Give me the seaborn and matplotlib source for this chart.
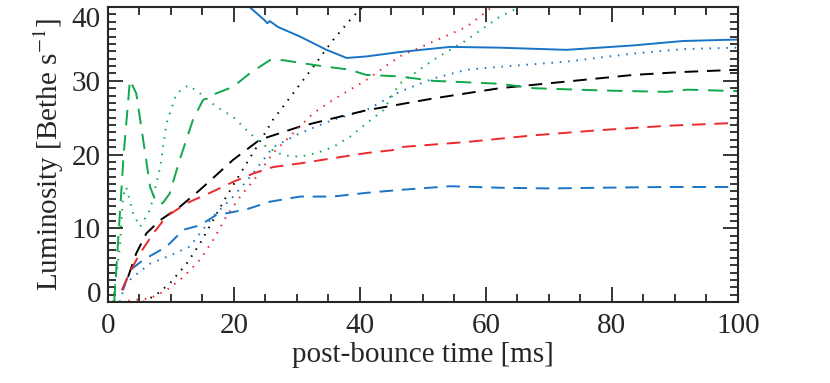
import matplotlib
matplotlib.use("Agg")
import matplotlib.pyplot as plt
import seaborn as sns
import pandas as pd
from matplotlib.ticker import MultipleLocator

# luminosities [Bethe/s] vs post-bounce time [ms]
t_blue_solid = [0, 1.8]
L_blue_solid = [0, 0]
t_blue_solid2 = [20, 22.5, 24.9, 25.3, 25.7, 27, 30.5, 34.7, 37.9, 41, 46.3, 54.3, 62, 72.8, 83.4, 91.3, 100]
L_blue_solid2 = [42, 40, 38.2, 37.8, 38.1, 37.3, 36.0, 34.2, 33.1, 33.3, 33.9, 34.6, 34.5, 34.2, 34.8, 35.4, 35.6]

t_blue_dot = [1.9, 2.7, 4, 6.7, 9.3, 13, 14.6, 16.7, 19.9, 23, 26.2, 30.5, 35.7, 41, 44.8, 46.3, 51.6, 56.9, 62.2, 72.8, 83.4, 91.3, 100]
L_blue_dot = [0, 2.3, 3.4, 5.2, 6.1, 7.5, 9.3, 11.6, 14.3, 17.4, 21, 22.9, 24.7, 26, 27.8, 28.5, 30.3, 31.5, 31.9, 32.6, 33.7, 34.3, 34.5]

t_blue_dash = [2.4, 3.5, 5.6, 9.3, 12, 14.6, 17.2, 19.9, 22.5, 25.7, 30.5, 35.7, 41, 46.3, 54.3, 62.2, 70.2, 78, 88.7, 100]
L_blue_dash = [1.6, 4.3, 5.7, 7.5, 9.8, 10.4, 11.8, 12.2, 12.7, 13.6, 14.3, 14.3, 14.8, 15.2, 15.7, 15.5, 15.4, 15.5, 15.6, 15.6]

t_black_dash = [3.2, 4.5, 6.1, 8.3, 11.4, 14.6, 19.9, 24.1, 30.5, 35.7, 41, 46.3, 51.6, 62.2, 72.8, 83.4, 91.3, 100]
L_black_dash = [3.4, 6.6, 9.3, 11.1, 12.9, 15.2, 19.3, 22.0, 23.8, 24.9, 26.0, 26.8, 27.6, 29.0, 29.9, 30.8, 31.2, 31.5]

t_black_dot = [5.6, 7.7, 9.8, 12.5, 14.6, 16.7, 18.8, 21, 23.6, 26.2, 29.4, 32.6, 35.7, 38.9, 41, 44]
L_black_dot = [0, 1.0, 2.5, 5.2, 7.9, 11.1, 14.3, 17.4, 21, 24.7, 28.3, 31.9, 35.5, 38.7, 40.5, 43]

t_red_dash = [2.2, 3.5, 5.1, 7.2, 9.3, 12.5, 16.7, 19.9, 23, 26.2, 30.5, 35.7, 41, 45.2, 46.3, 56.9, 67.5, 78, 88.7, 100]
L_red_dash = [1.6, 4.1, 6.6, 9.3, 11.6, 13.4, 15.0, 16.3, 17.4, 18.3, 18.8, 19.5, 20.2, 20.6, 21.0, 21.7, 22.6, 23.3, 23.9, 24.3]

t_red_dot = [1.9, 4.5, 6.7, 9.3, 12, 14.6, 16.7, 18.8, 21, 23.6, 26.2, 29.4, 32.6, 35.7, 41, 46.3, 51.6, 56.9, 60.1, 63]
L_red_dot = [0, 0.3, 0.5, 1.6, 3.4, 5.7, 8.4, 11.6, 14.3, 17, 20.2, 22.9, 25.6, 27.4, 30.1, 33.3, 35.3, 37.3, 39.4, 41.5]

t_green_dot = [0.8, 1.9, 2.4, 2.9, 4, 5.1, 6.7, 8.3, 9.3, 10.9, 12.8, 14.6, 17.2, 19.9, 22.5, 25.2, 27.8, 30.5, 33.1, 35.7, 38.4, 41, 43.7, 46.3, 51.6, 56.9, 62.2, 65.9, 68]
L_green_dot = [0, 7.5, 14.3, 15.6, 12.0, 10.2, 12.5, 18.3, 24.2, 28.3, 29.4, 28.3, 26.5, 25.1, 22.9, 21, 19.9, 19.7, 20.2, 21, 22.4, 24.2, 26, 29.6, 32.8, 35.5, 38.7, 40.2, 41.5]

t_green_dash = [1.0, 2.5, 3.5, 4.5, 5.6, 6.7, 7.7, 8.7, 9.8, 11.4, 13.5, 15.1, 17.2, 19.9, 22.5, 25.7, 27.8, 33.1, 38.4, 41, 46.3, 51.6, 62.2, 67.5, 78, 88.7, 92, 100]
L_green_dash = [0, 20, 30.1, 28.3, 22.0, 15.6, 13.4, 13.4, 14.7, 19.3, 24.7, 27.4, 28.3, 29.2, 31.0, 32.8, 32.8, 32.1, 31.5, 30.8, 30.6, 30.0, 29.6, 29.0, 28.7, 28.5, 28.8, 28.6]

y_ticks = [0, 10, 20, 30, 40]

blue = "#1a74c6"
green = "#10a84a"
red = "#ec2a2e"

sns.set_style("ticks")
plt.rcParams["font.family"] = ["Liberation Serif", "DejaVu Serif"]
plt.rcParams["mathtext.fontset"] = "stix"

fig = plt.figure(figsize=(8.3, 3.83), dpi=100)
ax = fig.add_axes([0.130, 0.2115, 0.759, 0.770])

dash = (7, 4.5)
dot = (0.8, 3.5)

series = [
    (t_blue_solid, L_blue_solid, blue, None),
    (t_blue_solid2, L_blue_solid2, blue, None),
    (t_blue_dot, L_blue_dot, blue, dot),
    (t_blue_dash, L_blue_dash, blue, dash),
    (t_black_dash, L_black_dash, "black", dash),
    (t_black_dot, L_black_dot, "black", dot),
    (t_red_dash, L_red_dash, red, dash),
    (t_red_dot, L_red_dot, red, dot),
    (t_green_dot, L_green_dot, green, dot),
    (t_green_dash, L_green_dash, green, (8, 5)),
]

for t, L, c, d in series:
    df = pd.DataFrame({"t": t, "L": L})
    sns.lineplot(data=df, x="t", y="L", ax=ax, color=c, lw=1.4,
                 sort=False, estimator=None)
    if d is not None:
        ax.lines[-1].set_dashes(d)

ax.set_xlim(0, 100)
ax.set_ylim(0, 40)
ax.xaxis.set_major_locator(MultipleLocator(20))
ax.xaxis.set_minor_locator(MultipleLocator(5))
ax.set_yticks(y_ticks)
ax.yaxis.set_minor_locator(MultipleLocator(1))
ax.tick_params(which="both", direction="in", top=True, right=True, width=1.3)
ax.tick_params(which="major", length=11, labelsize=21)
ax.tick_params(axis="x", which="major", pad=8)
ax.tick_params(axis="y", which="major", pad=5)
ax.tick_params(which="minor", length=6)
for s in ax.spines.values():
    s.set_linewidth(1.5)

ax.set_xlabel("post-bounce time [ms]", fontsize=21, labelpad=2)
ax.set_ylabel("Luminosity [Bethe s$^{-1}$]", fontsize=21, labelpad=4)

# keep the end labels of the y axis inside the frame height, IDL-like
yticks = ax.yaxis.get_major_ticks()
yticks[0].label1.set_verticalalignment("baseline")
yticks[-1].label1.set_verticalalignment("top")

fig.savefig("out.png", dpi=100)
